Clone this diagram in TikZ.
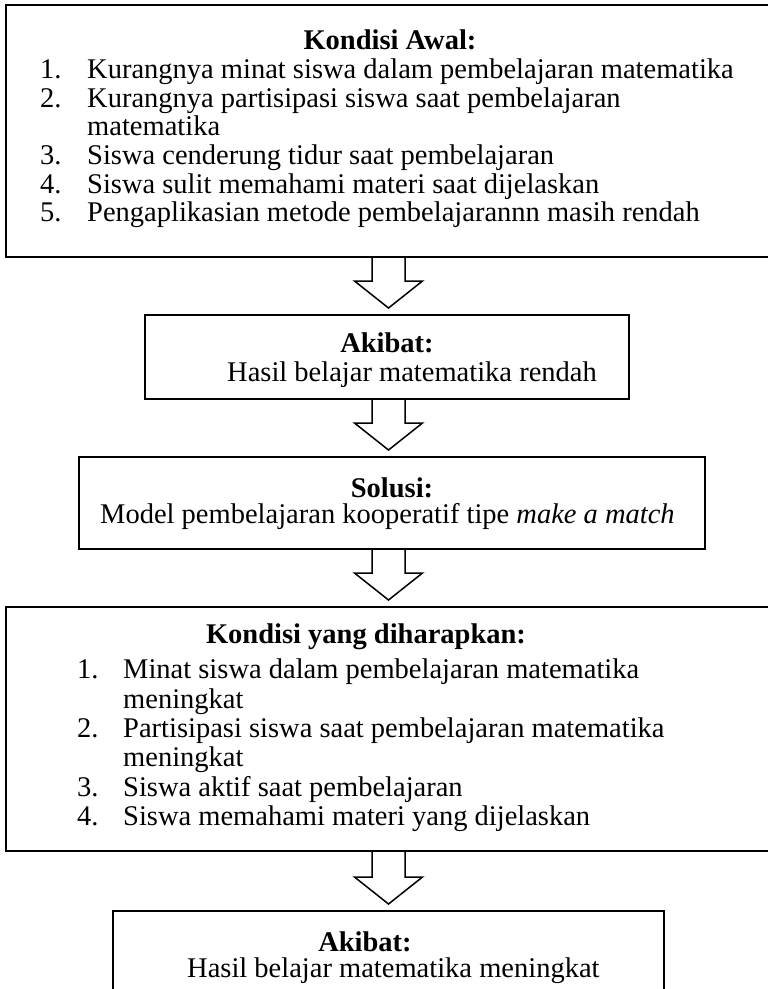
\documentclass[tikz,border=0pt]{standalone}
\usepackage{fontspec}
\setmainfont{Liberation Serif}
\usetikzlibrary{calc}

\newcommand{\bodysize}{\fontsize{28.5}{28.6}\selectfont}

\begin{document}
\begin{tikzpicture}[
x=1pt, y=-1pt,
box/.style={draw, line width=2pt, inner sep=0pt},
boxtitle/.style={font=\bodysize\bfseries, anchor=base, inner sep=0pt},
boxline/.style={font=\bodysize, anchor=base west, inner sep=0pt},
itemlist/.style={font={\fontsize{28.5}{#1}\selectfont}, anchor=north west, inner sep=0pt},
blockarrow/.style={draw, line width=1.5pt, line join=miter}
]
\useasboundingbox (0,0) rectangle (768,989);
\clip (0,0) rectangle (768,989);

% boxes
\node[box, minimum width=765pt, minimum height=252pt] (awal) at (388.5,131) {};
\node[box, minimum width=484pt, minimum height=84pt] (akibat1) at (387,357) {};
\node[box, minimum width=626pt, minimum height=92pt] (solusi) at (392,503) {};
\node[box, minimum width=765pt, minimum height=244pt] (harapan) at (388.5,729) {};
\node[box, minimum width=551pt, minimum height=100pt] (akibat2) at (388.5,961) {};

% kondisi awal
\node[boxtitle] (awal-t) at (390,49) {Kondisi Awal:};
\node[itemlist=28.6] (awal-l) at (40,58.5) {%
\begin{tabular}{@{}p{47pt}@{}l@{}}
1. & Kurangnya minat siswa dalam pembelajaran matematika\\
2. & Kurangnya partisipasi siswa saat pembelajaran\\
   & matematika\\
3. & Siswa cenderung tidur saat pembelajaran\\
4. & Siswa sulit memahami materi saat dijelaskan\\
5. & Pengaplikasian metode pembelajarannn masih rendah
\end{tabular}};

% akibat
\node[boxtitle] (akibat1-t) at (387,352) {Akibat:};
\node[boxline] (akibat1-l) at (227,381) {Hasil belajar matematika rendah};

% solusi
\node[boxtitle] (solusi-t) at (392,497) {Solusi:};
\node[boxline] (solusi-l) at (100,523) {Model pembelajaran kooperatif tipe \textit{make a match}};

% kondisi yang diharapkan
\node[boxtitle] (harapan-t) at (366,643) {Kondisi yang diharapkan:};
\node[itemlist=29.4] (harapan-l) at (77,657.9) {%
\begin{tabular}{@{}p{46pt}@{}l@{}}
1. & Minat siswa dalam pembelajaran matematika\\
   & meningkat\\
2. & Partisipasi siswa saat pembelajaran matematika\\
   & meningkat\\
3. & Siswa aktif saat pembelajaran\\
4. & Siswa memahami materi yang dijelaskan
\end{tabular}};

% akibat akhir
\node[boxtitle] (akibat2-t) at (365,951) {Akibat:};
\node[boxline] (akibat2-l) at (187,977) {Hasil belajar matematika meningkat};

% panah
\foreach \a/\b in {awal/akibat1, akibat1/solusi, solusi/harapan, harapan/akibat2}
  \draw[blockarrow] let \p1=(\a.south -| awal.south), \p2=(\b.north) in
    (\x1-16.5pt,\y1) -- (\x1-16.5pt,\y2+33pt) -- (\x1-34pt,\y2+33pt)
    -- (\x1,\y2+6pt) -- (\x1+34pt,\y2+33pt) -- (\x1+16.5pt,\y2+33pt)
    -- (\x1+16.5pt,\y1);
\end{tikzpicture}
\end{document}
